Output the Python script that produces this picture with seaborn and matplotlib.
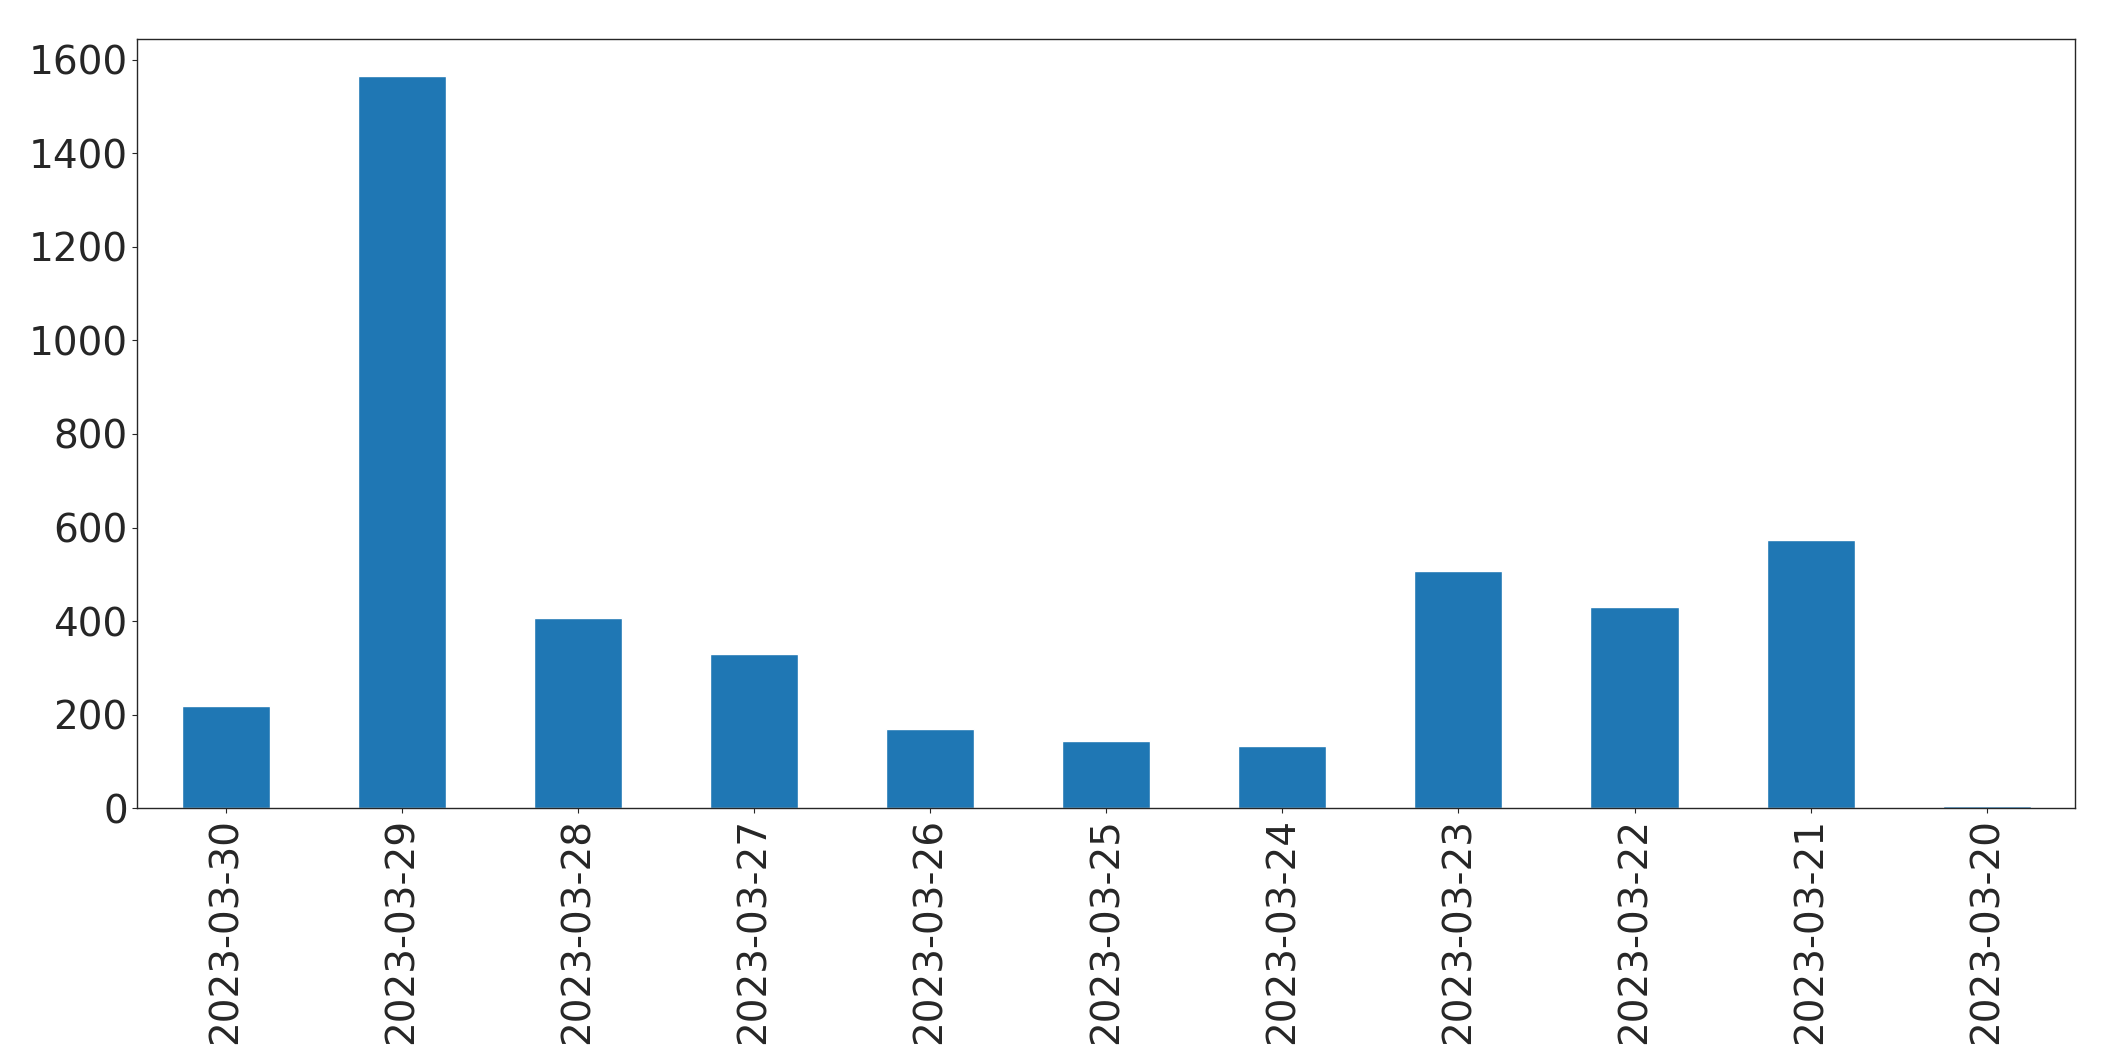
import matplotlib
matplotlib.use("Agg")
import matplotlib.pyplot as plt
import pandas as pd
import seaborn as sns

dates = ["2023-03-30", "2023-03-29", "2023-03-28", "2023-03-27", "2023-03-26",
         "2023-03-25", "2023-03-24", "2023-03-23", "2023-03-22", "2023-03-21",
         "2023-03-20"]
counts = [219, 1565, 406, 329, 170, 144, 133, 507, 430, 574, 6]

df = pd.DataFrame({"date": dates, "count": counts})

sns.set_style("ticks")
plt.rcParams["font.family"] = ["DejaVu Sans"]

fig, ax = plt.subplots(figsize=(21.15, 10.61), dpi=100)
sns.barplot(data=df, x="date", y="count", order=dates, color="#1f77b4",
            saturation=1, width=0.5, ax=ax)
ax.set_xlim(-0.5, len(dates) - 0.5)
ax.set(xlabel="", ylabel="")
ax.tick_params(axis="x", labelrotation=90, labelsize=28)
ax.tick_params(axis="y", labelsize=28)
for s in ax.spines.values():
    s.set_visible(True)
    s.set_linewidth(1)
fig.subplots_adjust(left=0.065, right=0.981, top=0.963, bottom=0.238)
fig.savefig("out.png", dpi=100)
